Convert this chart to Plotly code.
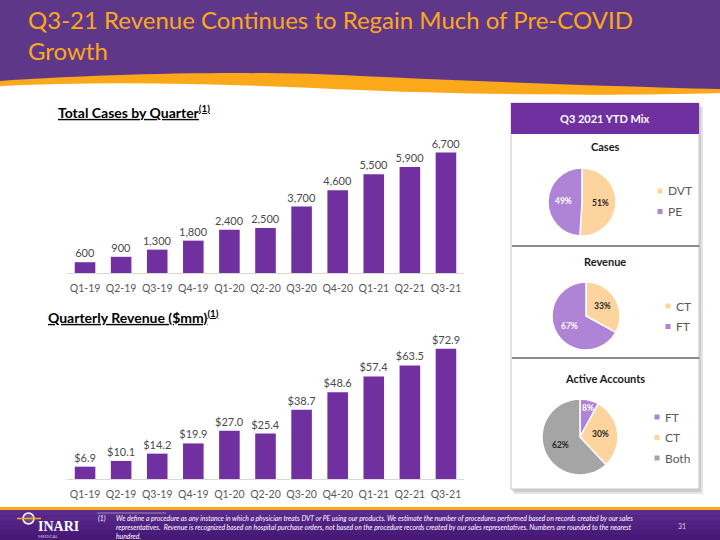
import math
import plotly.graph_objects as go

W, H = 720, 540


def px(x):
    return x / W


def py(y):
    return 1 - y / H


# ---------------- data ----------------
quarters = ["Q1-19", "Q2-19", "Q3-19", "Q4-19", "Q1-20", "Q2-20",
            "Q3-20", "Q4-20", "Q1-21", "Q2-21", "Q3-21"]
total_cases = [600, 900, 1300, 1800, 2400, 2500, 3700, 4600, 5500, 5900, 6700]
revenue_mm = [6.9, 10.1, 14.2, 19.9, 27.0, 25.4, 38.7, 48.6, 57.4, 63.5, 72.9]

cases_labels = ["DVT", "PE"]
cases_pct = [51, 49]
revenue_labels = ["CT", "FT"]
revenue_pct = [33, 67]
accounts_labels = ["FT", "CT", "Both"]
accounts_pct = [8, 30, 62]

title_text = "Q3-21 Revenue Continues to Regain Much of Pre-COVID<br>Growth"
footnote = ("We define a procedure as any instance in which a physician treats DVT or PE using our products. "
            "We estimate the number of procedures performed based on records created by our sales<br>"
            "representatives.  Revenue is recognized based on hospital purchase orders, not based on the procedure "
            "records created by our sales representatives. Numbers are rounded to the nearest<br>hundred.")

# ---------------- styles ----------------
FONT = "Lato"
BAR = "#7030A0"
PEACH = "#FDD49E"
LAV = "#AF84D6"
GRAY = "#A5A5A5"
HDR_PURPLE = "#5F3789"
ORANGE = "#FBA81B"
AXIS_TXT = "#595959"
LBL_TXT = "#4A4A4A"
color_map = {"DVT": PEACH, "CT": PEACH, "PE": LAV, "FT": LAV, "Both": GRAY}
text_on = {PEACH: "#262626", LAV: "white", GRAY: "#262626"}

fig = go.Figure()

# ---------------- bar charts ----------------
fig.add_trace(go.Bar(
    x=quarters, y=total_cases, marker=dict(color=BAR, line=dict(width=0)),
    texttemplate="%{y:,}", textposition="outside", cliponaxis=False, constraintext="none",
    textfont=dict(family=FONT, size=11, color=LBL_TXT),
    xaxis="x", yaxis="y", showlegend=False, hoverinfo="skip"))
fig.add_trace(go.Bar(
    x=quarters, y=revenue_mm, marker=dict(color=BAR, line=dict(width=0)),
    texttemplate="$%{y:.1f}", textposition="outside", cliponaxis=False, constraintext="none",
    textfont=dict(family=FONT, size=11, color=LBL_TXT),
    xaxis="x2", yaxis="y2", showlegend=False, hoverinfo="skip"))

xax = dict(showline=True, linecolor="#D9D9D9", linewidth=1, showgrid=False,
           zeroline=False, ticks="outside", ticklen=5, tickcolor="rgba(0,0,0,0)",
           tickfont=dict(family=FONT, size=10.5, color=AXIS_TXT), fixedrange=True)
yax = dict(visible=False, showgrid=False, zeroline=False, fixedrange=True)

# ---------------- pies ----------------
pies = [
    ("Cases", cases_labels, cases_pct, (582, 202), 34, (660, 191)),
    ("Revenue", revenue_labels, revenue_pct, (586, 316), 34, (668, 306)),
    ("Active Accounts", accounts_labels, accounts_pct, (580, 437), 38, (657, 417)),
]

annotations = []
shapes = []


def P(x, y):
    return f"{px(x):.5f},{py(y):.5f}"


# header band
orange_path = ("M " + P(0, 0) + " L " + P(720, 0) + " L " + P(720, 93) +
               " C " + P(620, 96) + " " + P(480, 95) + " " + P(360, 90) +
               " C " + P(250, 85) + " " + P(120, 80) + " " + P(0, 86) + " Z")
purple_path = ("M " + P(0, 0) + " L " + P(720, 0) + " L " + P(720, 89) +
               " C " + P(600, 86) + " " + P(470, 81) + " " + P(360, 76) +
               " C " + P(250, 70) + " " + P(100, 74) + " " + P(0, 81) + " Z")
shapes.append(dict(type="path", path=orange_path, xref="paper", yref="paper",
                   fillcolor=ORANGE, line=dict(width=0), layer="below"))
shapes.append(dict(type="path", path=purple_path, xref="paper", yref="paper",
                   fillcolor=HDR_PURPLE, line=dict(width=0), layer="below"))

# footer band
shapes.append(dict(type="rect", xref="paper", yref="paper", x0=0, x1=1,
                   y0=py(540), y1=py(507), fillcolor=ORANGE, line=dict(width=0), layer="below"))
foot_cols = ["#5A2B8D", "#562789", "#522384", "#4E1F7F", "#4A1B7A", "#461775"]
for i, c in enumerate(foot_cols):
    shapes.append(dict(type="rect", xref="paper", yref="paper", x0=0, x1=1,
                       y0=py(510 + 5 * (i + 1)), y1=py(510 + 5 * i),
                       fillcolor=c, line=dict(width=0), layer="below"))
shapes.append(dict(type="line", xref="paper", yref="paper", x0=px(97), x1=px(166),
                   y0=py(513), y1=py(513), line=dict(color="#9A8AAE", width=1), layer="below"))
# logo emblem
shapes.append(dict(type="circle", xref="paper", yref="paper", x0=px(23), x1=px(34),
                   y0=py(524), y1=py(513), fillcolor="rgba(255,255,255,0.15)",
                   line=dict(color="white", width=1.5), layer="below"))
shapes.append(dict(type="line", xref="paper", yref="paper", x0=px(17), x1=px(41),
                   y0=py(518.5), y1=py(518.5), line=dict(color=ORANGE, width=1.5), layer="below"))

# right panel
shapes.append(dict(type="rect", xref="paper", yref="paper", x0=px(514), x1=px(703),
                   y0=py(494), y1=py(107), fillcolor="rgba(0,0,0,0.10)", line=dict(width=0), layer="below"))
shapes.append(dict(type="rect", xref="paper", yref="paper", x0=px(512), x1=px(701),
                   y0=py(492), y1=py(105), fillcolor="rgba(0,0,0,0.10)", line=dict(width=0), layer="below"))
shapes.append(dict(type="rect", xref="paper", yref="paper", x0=px(511), x1=px(699),
                   y0=py(489), y1=py(103), fillcolor="white", line=dict(color="#C8C8C8", width=1), layer="below"))
shapes.append(dict(type="rect", xref="paper", yref="paper", x0=px(511), x1=px(699),
                   y0=py(134), y1=py(103), fillcolor=BAR, line=dict(width=0), layer="below"))
for yy in (246, 358):
    shapes.append(dict(type="line", xref="paper", yref="paper", x0=px(512), x1=px(699),
                       y0=py(yy), y1=py(yy), line=dict(color="#1A1A1A", width=1), layer="below"))

annotations.append(dict(text="<b>Q3 2021 YTD Mix</b>", x=px(605), y=py(118), xref="paper", yref="paper",
                        showarrow=False, xanchor="center", yanchor="middle",
                        font=dict(family=FONT, size=11, color="white")))

for name, labels, vals, (cx, cy), r, (lx, ly) in pies:
    cols = [color_map[l] for l in labels]
    fig.add_trace(go.Pie(
        labels=labels, values=vals, sort=False, direction="clockwise", rotation=0,
        marker=dict(colors=cols, line=dict(color="white", width=1.5)),
        textinfo="none", hoverinfo="skip", showlegend=False,
        domain=dict(x=[px(cx - r), px(cx + r)], y=[py(cy + r), py(cy - r)])))
    # title
    annotations.append(dict(text=f"<b>{name}</b>", x=px(605),
                            y=py(cy - r - 21 if name != "Active Accounts" else cy - r - 20.5),
                            xref="paper", yref="paper", showarrow=False, xanchor="center", yanchor="middle",
                            font=dict(family=FONT, size=11, color="#1A1A1A")))
    total = sum(vals)
    cum = 0
    for lab, v, c in zip(labels, vals, cols):
        frac = v / total
        theta = 2 * math.pi * (cum + frac / 2)
        f = 0.8 if frac < 0.12 else 0.55
        tx = cx + f * r * math.sin(theta)
        ty = cy - f * r * math.cos(theta)
        cum += frac
        annotations.append(dict(text=f"<b>{v}%</b>", x=px(tx), y=py(ty), xref="paper", yref="paper",
                                showarrow=False, xanchor="center", yanchor="middle",
                                font=dict(family=FONT, size=8.5, color=text_on[c])))
    # legend
    for i, (lab, c) in enumerate(zip(labels, cols)):
        yy = ly + i * 20.5
        shapes.append(dict(type="rect", xref="paper", yref="paper", x0=px(lx - 2.5), x1=px(lx + 2.5),
                           y0=py(yy + 2.5), y1=py(yy - 2.5), fillcolor=c, line=dict(width=0)))
        annotations.append(dict(text=lab, x=px(lx + 6), y=py(yy), xref="paper", yref="paper",
                                showarrow=False, xanchor="left", yanchor="middle",
                                font=dict(family=FONT, size=12, color=AXIS_TXT)))

# titles
annotations.append(dict(text=title_text, x=px(26), y=py(35), xref="paper", yref="paper",
                        showarrow=False, xanchor="left", yanchor="middle", align="left",
                        font=dict(family=FONT, size=24, color=ORANGE)))
annotations.append(dict(text="<b><u>Total Cases by Quarter<sup>(1)</sup></u></b>", x=px(56), y=py(112),
                        xref="paper", yref="paper", showarrow=False, xanchor="left", yanchor="middle",
                        font=dict(family=FONT, size=14, color="black")))
annotations.append(dict(text="<b><u>Quarterly Revenue ($mm)<sup>(1)</sup></u></b>", x=px(46), y=py(316),
                        xref="paper", yref="paper", showarrow=False, xanchor="left", yanchor="middle",
                        font=dict(family=FONT, size=14, color="black")))
# footer text
annotations.append(dict(text="<i>(1)</i>", x=px(96), y=py(518), xref="paper", yref="paper",
                        showarrow=False, xanchor="left", yanchor="middle",
                        font=dict(family=FONT, size=6.8, color="white")))
annotations.append(dict(text="<i>" + footnote + "</i>", x=px(114), y=py(527), xref="paper", yref="paper",
                        showarrow=False, xanchor="left", yanchor="middle", align="left",
                        font=dict(family=FONT, size=6.8, color="white")))
annotations.append(dict(text="31", x=px(682), y=py(526), xref="paper", yref="paper",
                        showarrow=False, xanchor="center", yanchor="middle",
                        font=dict(family=FONT, size=7, color="#D8CCE6")))
annotations.append(dict(text="<b>INARI</b>", x=px(58), y=py(526), xref="paper", yref="paper",
                        showarrow=False, xanchor="center", yanchor="middle",
                        font=dict(family="Liberation Serif", size=14, color="white")))
annotations.append(dict(text="MEDICAL", x=px(49), y=py(536.5), xref="paper", yref="paper",
                        showarrow=False, xanchor="center", yanchor="middle",
                        font=dict(family=FONT, size=4.5, color="#CFC3DD")))

fig.update_layout(
    width=W, height=H, margin=dict(l=0, r=0, t=0, b=0),
    paper_bgcolor="white", plot_bgcolor="rgba(0,0,0,0)",
    font=dict(family=FONT),
    bargap=0.43,
    xaxis=dict(domain=[px(67), px(464)], anchor="y", **xax),
    yaxis=dict(domain=[py(273), py(140)], range=[0, 7400], anchor="x", **yax),
    xaxis2=dict(domain=[px(67), px(464)], anchor="y2", **xax),
    yaxis2=dict(domain=[py(479), py(336)], range=[0, 80], anchor="x2", **yax),
    shapes=shapes, annotations=annotations,
)

fig.write_html("out.html")
